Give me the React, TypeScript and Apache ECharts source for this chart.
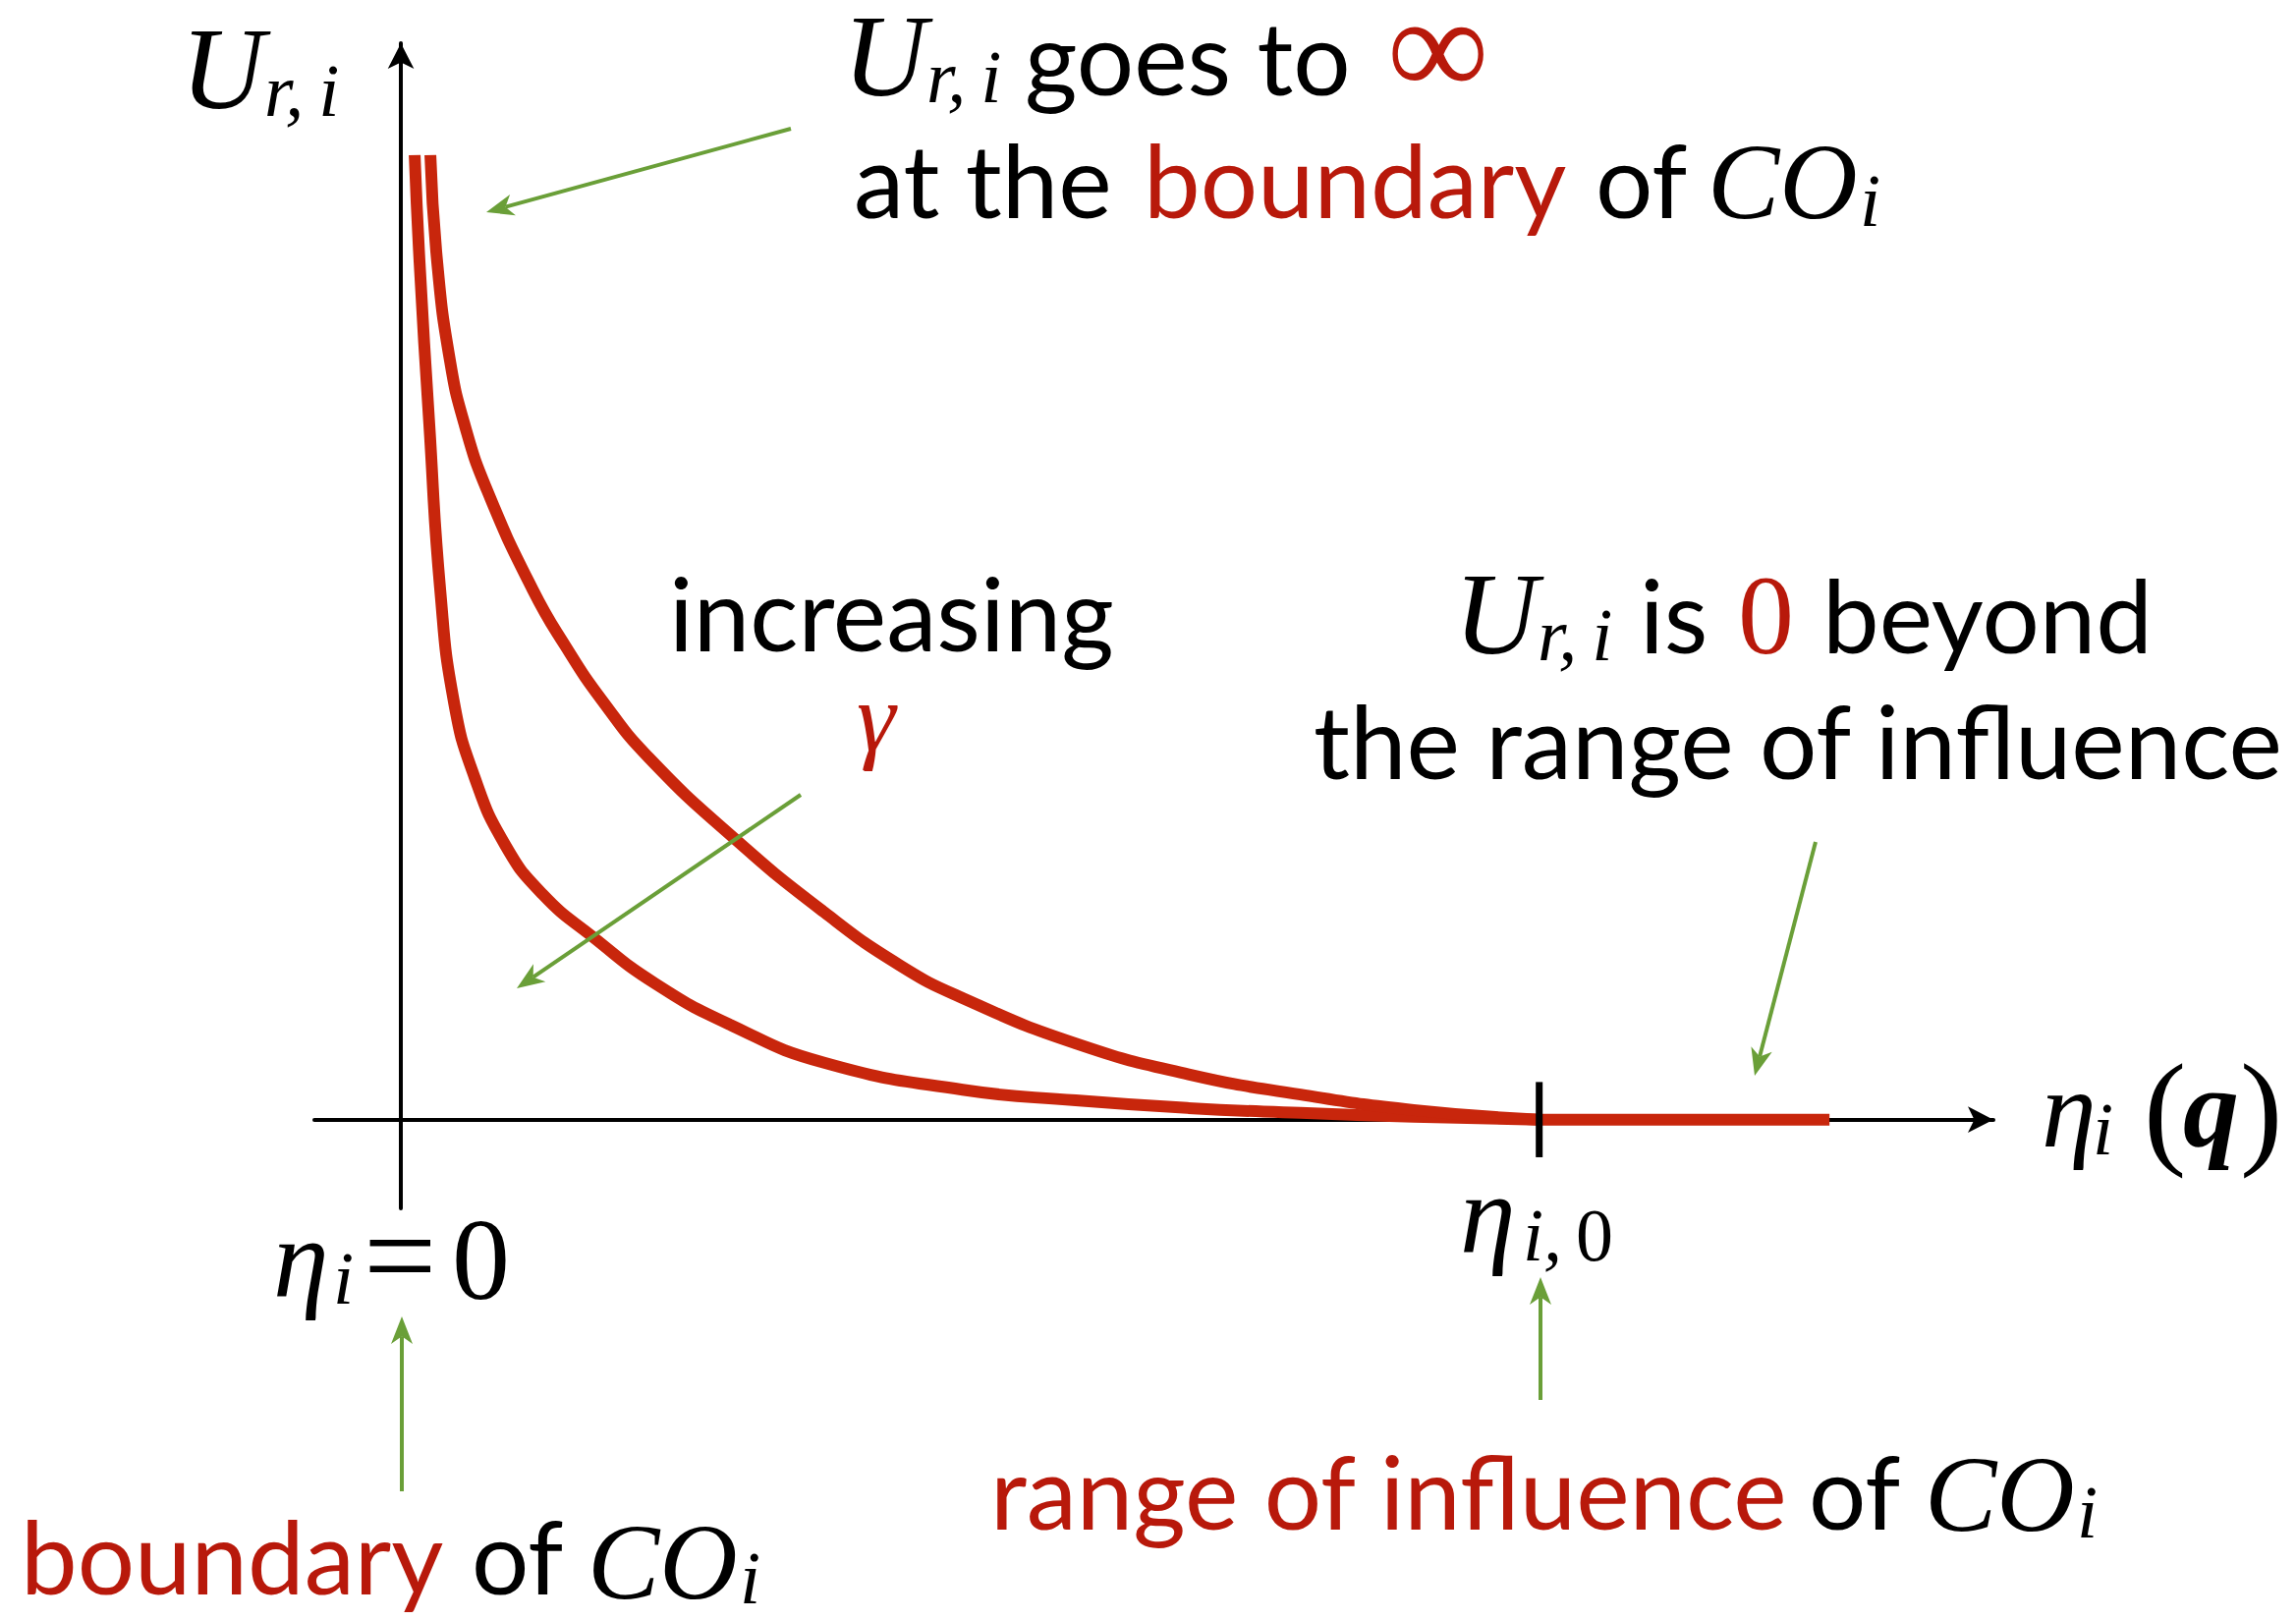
import React, { useEffect, useRef } from "react";
import * as echarts from "echarts";

// ---- data: eta in units where eta_0 = 10, U in arbitrary units (top of plot = 10) ----
const ETA_0 = 10;
const X_MIN = -0.76;
const X_MAX = 13.99;
const Y_MIN = -0.92;
const Y_MAX = 11.16;

// steeper curve (inner)
const curveInner: [number, number][] = [
  [0.121, 10.0], [0.164, 8.89], [0.25, 7.2], [0.345, 5.5], [0.466, 4.33],
  [0.647, 3.55], [0.915, 2.85], [1.242, 2.34], [1.691, 1.89], [2.235, 1.41],
  [2.899, 0.98], [3.719, 0.59], [4.935, 0.31], [5.928, 0.2], [6.92, 0.12],
  [7.903, 0.07], [8.896, 0.03], [10, 0],
];
// wider curve (outer)
const curveOuter: [number, number][] = [
  [0.259, 10.0], [0.319, 8.89], [0.431, 7.87], [0.561, 7.2], [0.759, 6.52],
  [1.156, 5.5], [1.44, 4.92], [1.778, 4.33], [2.18, 3.75], [2.925, 2.92],
  [3.719, 2.15], [4.383, 1.6], [4.935, 1.26], [5.928, 0.79], [6.92, 0.47],
  [7.903, 0.26], [8.896, 0.1], [10, 0],
];
const zeroBeyond: [number, number][] = [[ETA_0, 0], [12.55, 0]];
const eta0Tick: [number, number][] = [[ETA_0, -0.39], [ETA_0, 0.39]];

const RED = "#c8260c";
const TEXT_RED = "#b8190b";
const GREEN = "#6a9f38";
const SANS = "Lato";
const SERIF = "Liberation Serif";
const FS = 103; // sans text size
const MS = 118; // math main size
const CS = 110; // CO size
const SS = 76; // math subscript size

function txt(
  s: string, x: number, base: number, size: number,
  o: { family?: string; color?: string; italic?: boolean; bold?: boolean; lh?: number } = {}
) {
  const family = o.family || SANS;
  const k = family === SANS ? 0.387 : 0.338;
  return {
    type: "text",
    x,
    y: base - k * size,
    z: 10,
    style: {
      text: s,
      fill: o.color || "#000",
      fontSize: size,
      fontFamily: family,
      fontStyle: o.italic ? "italic" : "normal",
      fontWeight: o.bold ? "bold" : "normal",
      lineHeight: Math.round(size * (o.lh ?? 0.8)),
      align: "left",
      verticalAlign: "middle",
    },
  };
}

function arrow(x1: number, y1: number, x2: number, y2: number) {
  const dx = x2 - x1;
  const dy = y2 - y1;
  const len = Math.hypot(dx, dy);
  const ux = dx / len;
  const uy = dy / len;
  const nx = -uy;
  const ny = ux;
  const L = 28;
  const W = 11;
  const bx = x2 - L * ux;
  const by = y2 - L * uy;
  const mx = x2 - 0.72 * L * ux;
  const my = y2 - 0.72 * L * uy;
  return [
    {
      type: "line",
      z: 5,
      shape: { x1, y1, x2: mx, y2: my },
      style: { stroke: GREEN, lineWidth: 4 },
    },
    {
      type: "polygon",
      z: 5,
      shape: {
        points: [
          [x2, y2],
          [bx + W * nx, by + W * ny],
          [mx, my],
          [bx - W * nx, by - W * ny],
        ],
      },
      style: { fill: GREEN },
    },
  ];
}

const MATH = { family: SERIF, italic: true };
const MATH_TOP = { family: SERIF, italic: true, lh: 0.66 };
const UP = { family: SERIF };
const SUB_RI = "r,\u2009i";
const U_ADV = Math.round(0.722 * MS);
const CO_ADV = Math.round(1.389 * CS) + 2;

function buildGraphics() {
  return [
    // y-axis label U_{r,i}
    txt("U", 184, 110, MS, MATH_TOP),
    txt(SUB_RI, 184 + U_ADV, 118, SS, MATH),
    // top annotation
    txt("U", 858, 97, MS, MATH_TOP),
    txt(SUB_RI, 858 + U_ADV, 104, SS, MATH),
    txt("goes to", 1043, 97, FS, { lh: 0.66 }),
    txt("∞", 1412, 97, 145, { family: SERIF, color: TEXT_RED, lh: 0.45 }),
    txt("at the", 869, 222, FS),
    txt("boundary", 1164, 222, FS, { color: TEXT_RED }),
    txt("of", 1624, 222, FS),
    txt("CO", 1738, 222, CS, MATH),
    txt("i", 1738 + CO_ADV, 230, SS, MATH),
    // increasing gamma
    txt("increasing", 681, 663, FS),
    txt("γ", 872, 764, 100, { family: SERIF, italic: true, color: TEXT_RED }),
    // right annotation
    txt("U", 1480, 665, MS, MATH),
    txt(SUB_RI, 1480 + U_ADV, 672, SS, MATH),
    txt("is", 1669, 665, FS),
    txt("0", 1769, 665, 114, { family: SERIF, color: TEXT_RED }),
    txt("beyond", 1855, 665, FS),
    txt("the range of influence", 1337, 793, FS),
    // x-axis label eta_i(q)
    txt("η", 2078, 1167, 112, MATH),
    txt("i", 2130, 1175, SS, MATH),
    txt("(", 2182, 1172, 130, UP),
    txt("q", 2222, 1167, 114, { family: SERIF, italic: true, bold: true }),
    txt(")", 2280, 1172, 130, UP),
    // eta_i = 0
    txt("η", 278, 1320, 114, MATH),
    txt("i", 339, 1327, SS, MATH),
    txt("=", 370, 1322, 132, UP),
    txt("0", 460, 1322, 118, UP),
    txt("boundary", 21, 1623, FS, { color: TEXT_RED }),
    txt("of", 480, 1623, FS),
    txt("CO", 598, 1627, CS, MATH),
    txt("i", 598 + CO_ADV, 1632, SS, MATH),
    // eta_{i,0}
    txt("η", 1486, 1275, 114, MATH),
    txt("i,", 1550, 1283, SS, MATH),
    txt("0", 1604, 1283, SS, UP),
    txt("range of influence", 1008, 1557, FS, { color: TEXT_RED }),
    txt("of", 1841, 1557, FS),
    txt("CO", 1959, 1558, CS, MATH),
    txt("i", 1959 + CO_ADV, 1565, SS, MATH),
    // green arrows
    ...arrow(805, 131, 495, 216),
    ...arrow(815, 809, 526, 1006),
    ...arrow(1848, 857, 1786, 1095),
    ...arrow(409, 1518, 409, 1340),
    ...arrow(1568, 1425, 1568, 1300),
  ];
}

export default function App() {
  const ref = useRef<HTMLDivElement>(null);
  useEffect(() => {
    if (!ref.current) return;
    const chart = echarts.init(ref.current, undefined, { renderer: "svg" });
    const axisLine = {
      show: true,
      onZero: true,
      symbol: ["none", "arrow"],
      symbolSize: [20, 26],
      lineStyle: { color: "#000", width: 4 },
    };
    const curveStyle = { color: RED, width: 12, cap: "butt", join: "round" };
    chart.setOption({
      animation: false,
      backgroundColor: "#fff",
      grid: { left: 320, top: 44, width: 1709, height: 1186, containLabel: false },
      xAxis: {
        type: "value",
        min: X_MIN,
        max: X_MAX,
        axisLine,
        axisTick: { show: false },
        axisLabel: { show: false },
        splitLine: { show: false },
      },
      yAxis: {
        type: "value",
        min: Y_MIN,
        max: Y_MAX,
        axisLine,
        axisTick: { show: false },
        axisLabel: { show: false },
        splitLine: { show: false },
      },
      series: [
        {
          name: "inner curve",
          type: "line",
          data: curveInner,
          smooth: 0.5,
          symbol: "none",
          clip: false,
          lineStyle: curveStyle,
        },
        {
          name: "outer curve",
          type: "line",
          data: curveOuter,
          smooth: 0.5,
          symbol: "none",
          clip: false,
          lineStyle: curveStyle,
        },
        {
          name: "zero beyond",
          type: "line",
          data: zeroBeyond,
          symbol: "none",
          lineStyle: curveStyle,
        },
        {
          name: "eta0 tick",
          type: "line",
          data: eta0Tick,
          symbol: "none",
          clip: false,
          lineStyle: { color: "#000", width: 7, cap: "butt" },
        },
      ],
      graphic: buildGraphics(),
    });
    return () => chart.dispose();
  }, []);
  return (
    <div
      ref={ref}
      style={{ position: "fixed", left: 0, top: 0, width: 2337, height: 1649, background: "#fff" }}
    />
  );
}
